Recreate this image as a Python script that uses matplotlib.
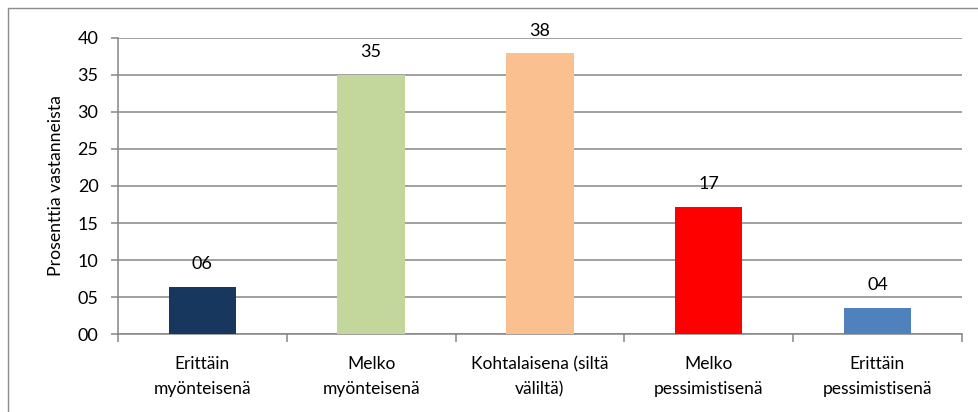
import matplotlib
matplotlib.use("Agg")
import matplotlib.pyplot as plt
from matplotlib.patches import Rectangle
from matplotlib.ticker import FormatStrFormatter, FixedLocator, NullFormatter

# ------------------------------------------------------------------------------
# data
# ------------------------------------------------------------------------------
categories = [
    "Erittäin\nmyönteisenä",
    "Melko\nmyönteisenä",
    "Kohtalaisena (siltä\nväliltä)",
    "Melko\npessimistisenä",
    "Erittäin\npessimistisenä",
]
values = [6.4, 35.0, 37.9, 17.2, 3.6]
colors = ["#17375E", "#C3D69B", "#FAC090", "#FF0000", "#4F81BD"]
ylabel = "Prosenttia vastanneista"
yticks = [0, 5, 10, 15, 20, 25, 30, 35, 40]

plt.rcParams["font.family"] = ["Lato", "DejaVu Sans"]
grey = "#868686"

fig = plt.figure(figsize=(9.79, 4.12), dpi=100)
ax = fig.add_axes([0.1205, 0.1886, 0.862, 0.72])

x = list(range(len(categories)))
ax.bar(x, values, width=0.40, color=colors, zorder=3)

for xi, v in zip(x, values):
    ax.annotate(
        f"{v:02.0f}",
        (xi, v),
        xytext=(0, 12.5),
        textcoords="offset points",
        ha="center",
        va="baseline",
        fontsize=13,
        zorder=4,
    )

ax.set_xlim(-0.5, len(categories) - 0.5)
ax.set_ylim(0, 40)
ax.set_yticks(yticks)
ax.yaxis.set_major_formatter(FormatStrFormatter("%02d"))
ax.yaxis.grid(True, color=grey, lw=1.1, zorder=0)

# category labels sit between boundary ticks
ax.xaxis.set_major_locator(FixedLocator([i - 0.5 for i in range(len(categories) + 1)]))
ax.xaxis.set_major_formatter(NullFormatter())
ax.xaxis.set_minor_locator(FixedLocator(x))
ax.set_xticklabels(categories, minor=True, fontsize=12.5, linespacing=1.72)
ax.tick_params(axis="x", which="minor", length=0, pad=15.5)
ax.tick_params(axis="x", which="major", length=6, width=1.1, color=grey)
ax.tick_params(axis="y", length=5, width=1.1, color=grey, labelsize=13, pad=9)

for side in ["top", "right"]:
    ax.spines[side].set_visible(False)
for side in ["left", "bottom"]:
    ax.spines[side].set_color(grey)
    ax.spines[side].set_linewidth(1.1)

ax.set_ylabel(ylabel, fontsize=12.7, va="center")
ax.yaxis.set_label_coords(-0.0735, 0.5)

# outer chart frame (runs off the right and bottom edges)
fig.add_artist(
    Rectangle(
        (8 / 979, -0.1),
        1.2,
        1.1 - 8 / 412,
        transform=fig.transFigure,
        fill=False,
        ec="#8c8c8c",
        lw=1.0,
    )
)

fig.savefig("out.png", dpi=100)
